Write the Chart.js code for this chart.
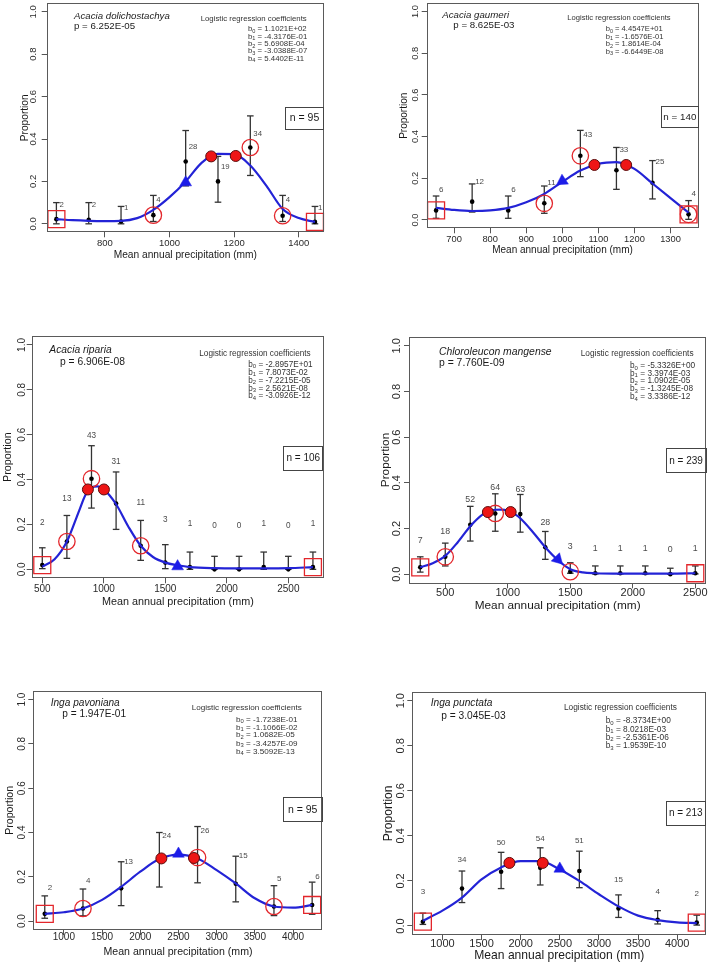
<!DOCTYPE html>
<html>
<head>
<meta charset="utf-8">
<script src="https://cdn.jsdelivr.net/npm/chart.js@4.4.1/dist/chart.umd.min.js"></script>
<style>
  body { margin: 0; background: #fff; width: 709px; height: 967px; position: relative; overflow: hidden; }
  canvas { position: absolute; left: 0; top: 0; }
</style>
</head>
<body>
<canvas id="c1" width="709" height="967"></canvas>
<canvas id="c2" width="709" height="967"></canvas>
<canvas id="c3" width="709" height="967"></canvas>
<canvas id="c4" width="709" height="967"></canvas>
<canvas id="c5" width="709" height="967"></canvas>
<canvas id="c6" width="709" height="967"></canvas>
<script>
const yTicks = [0, 0.2, 0.4, 0.6, 0.8, 1.0];

// ---- Acacia dolichostachya ----
const p1X = [650, 750, 850, 950, 1050, 1150, 1250, 1350, 1450];
const p1Y = [0.022, 0.019, 0.011, 0.041, 0.294, 0.200, 0.360, 0.038, 0.009];
const p1Lo = [0, 0, 0, 0.011, 0.179, 0.102, 0.228, 0.011, 0];
const p1Hi = [0.100, 0.100, 0.082, 0.134, 0.440, 0.318, 0.509, 0.134, 0.082];
const p1N = [2, 2, 1, 4, 28, 19, 34, 4, 1];
const p1NY = [0.09, 0.09, 0.077, 0.113, 0.363, 0.267, 0.425, 0.113, 0.077];
const p1FitX = [650, 700, 750, 800, 850, 900, 950, 1000, 1050, 1100, 1150, 1200, 1250, 1300, 1350, 1400, 1450];
const p1FitY = [0.022, 0.017, 0.014, 0.013, 0.014, 0.027, 0.066, 0.126, 0.200, 0.289, 0.330, 0.329, 0.275, 0.179, 0.070, 0.027, 0.009];
const p1Circle = [3, 6, 7];
const p1Square = [0, 8];
const p1PeakX = [1129, 1205];
const p1PeakY = [0.318, 0.320];
const p1Tri = [1050, 0.195];
const p1XTicks = [800, 1000, 1200, 1400];
const p1Coef = ['1.1021E+02', '-4.3176E-01', '5.6908E-04', '-3.0388E-07', '5.4402E-11'];

// ---- Acacia gaumeri ----
const p2X = [650, 750, 850, 950, 1050, 1150, 1250, 1350];
const p2Y = [0.046, 0.088, 0.046, 0.080, 0.308, 0.239, 0.179, 0.027];
const p2Lo = [0.008, 0.038, 0.008, 0.032, 0.208, 0.147, 0.101, 0.003];
const p2Hi = [0.115, 0.173, 0.115, 0.163, 0.430, 0.348, 0.285, 0.093];
const p2N = [6, 12, 6, 11, 43, 33, 25, 4];
const p2NY = [0.144, 0.184, 0.144, 0.179, 0.409, 0.337, 0.277, 0.128];
const p2FitX = [650, 700, 750, 800, 850, 900, 950, 1000, 1050, 1100, 1150, 1200, 1250, 1300, 1350];
const p2FitY = [0.058, 0.048, 0.043, 0.046, 0.058, 0.085, 0.125, 0.183, 0.237, 0.270, 0.278, 0.245, 0.175, 0.105, 0.035];
const p2Circle = [3, 4, 7];
const p2Square = [0, 7];
const p2PeakX = [1089, 1177];
const p2PeakY = [0.264, 0.264];
const p2Tri = [1000, 0.187];
const p2XTicks = [700, 800, 900, 1000, 1100, 1200, 1300];
const p2Coef = ['4.4547E+01', '-1.6576E-01', '1.8614E-04', '-6.6449E-08'];

// ---- Acacia riparia ----
const p3X = [500, 700, 900, 1100, 1300, 1500, 1700, 1900, 2100, 2300, 2500, 2700];
const p3Y = [0.019, 0.124, 0.404, 0.293, 0.105, 0.030, 0.010, 0.000, 0.000, 0.010, 0.000, 0.010];
const p3Lo = [0.003, 0.049, 0.273, 0.178, 0.040, 0.003, 0, 0, 0, 0, 0, 0];
const p3Hi = [0.096, 0.240, 0.551, 0.434, 0.218, 0.110, 0.077, 0.058, 0.058, 0.077, 0.058, 0.077];
const p3N = [2, 13, 43, 31, 11, 3, 1, 0, 0, 1, 0, 1];
const p3NY = [0.207, 0.314, 0.597, 0.481, 0.296, 0.222, 0.203, 0.193, 0.193, 0.203, 0.193, 0.203];
const p3FitX = [500, 600, 700, 800, 850, 900, 950, 1000, 1100, 1200, 1300, 1400, 1500, 1600, 1700, 1900, 2100, 2300, 2500, 2700];
const p3FitY = [0.012, 0.045, 0.124, 0.262, 0.330, 0.365, 0.370, 0.356, 0.290, 0.190, 0.105, 0.055, 0.030, 0.018, 0.010, 0.005, 0.004, 0.004, 0.005, 0.010];
const p3Circle = [1, 2, 4];
const p3Square = [0, 11];
const p3PeakX = [871, 1001];
const p3PeakY = [0.356, 0.356];
const p3Tri = [1600, 0.013];
const p3XTicks = [500, 1000, 1500, 2000, 2500];
const p3Coef = ['-2.8957E+01', '7.8073E-02', '-7.2215E-05', '2.5621E-08', '-3.0926E-12'];

// ---- Chloroleucon mangense ----
const p4X = [300, 500, 700, 900, 1100, 1300, 1500, 1700, 1900, 2100, 2300, 2500];
const p4Y = [0.030, 0.076, 0.216, 0.266, 0.263, 0.118, 0.011, 0.004, 0.004, 0.004, 0.000, 0.004];
const p4Lo = [0.009, 0.036, 0.145, 0.188, 0.184, 0.065, 0.004, 0.001, 0.001, 0.001, 0, 0.001];
const p4Hi = [0.076, 0.136, 0.297, 0.352, 0.349, 0.187, 0.050, 0.036, 0.036, 0.036, 0.026, 0.036];
const p4N = [7, 18, 52, 64, 63, 28, 3, 1, 1, 1, 0, 1];
const p4NY = [0.145, 0.187, 0.325, 0.378, 0.371, 0.227, 0.122, 0.112, 0.112, 0.112, 0.109, 0.114];
const p4FitX = [300, 400, 500, 600, 700, 800, 850, 900, 950, 1000, 1050, 1100, 1200, 1300, 1400, 1500, 1600, 1700, 1900, 2100, 2300, 2500];
const p4FitY = [0.030, 0.048, 0.080, 0.140, 0.210, 0.262, 0.275, 0.282, 0.283, 0.278, 0.265, 0.245, 0.185, 0.118, 0.062, 0.022, 0.008, 0.004, 0.002, 0.002, 0.002, 0.004];
const p4Circle = [1, 3, 6];
const p4Square = [0, 11];
const p4PeakX = [841, 1023];
const p4PeakY = [0.272, 0.272];
const p4Tri = [1400, 0.065];
const p4XTicks = [500, 1000, 1500, 2000, 2500];
const p4Coef = ['-5.3326E+00', '3.3974E-03', '1.0902E-05', '-1.3245E-08', '3.3386E-12'];

// ---- Inga pavoniana ----
const p5X = [750, 1250, 1750, 2250, 2750, 3250, 3750, 4250];
const p5Y = [0.033, 0.057, 0.148, 0.275, 0.287, 0.169, 0.066, 0.073];
const p5Lo = [0.013, 0.024, 0.070, 0.154, 0.173, 0.087, 0.025, 0.031];
const p5Hi = [0.114, 0.145, 0.268, 0.400, 0.427, 0.293, 0.160, 0.176];
const p5N = [2, 4, 13, 24, 26, 15, 5, 6];
const p5NY = [0.152, 0.181, 0.270, 0.387, 0.407, 0.293, 0.190, 0.200];
const p5FitX = [750, 1000, 1250, 1500, 1750, 2000, 2250, 2500, 2750, 3000, 3250, 3500, 3750, 4000, 4250];
const p5FitY = [0.033, 0.040, 0.057, 0.096, 0.155, 0.223, 0.280, 0.300, 0.283, 0.230, 0.170, 0.103, 0.066, 0.061, 0.073];
const p5Circle = [1, 4, 6];
const p5Square = [0, 7];
const p5PeakX = [2276, 2703];
const p5PeakY = [0.283, 0.285];
const p5Tri = [2500, 0.304];
const p5XTicks = [1000, 1500, 2000, 2500, 3000, 3500, 4000];
const p5Coef = ['-1.7238E-01', '-1.1066E-02', '1.0682E-05', '-3.4257E-09', '3.5092E-13'];

// ---- Inga punctata ----
const p6X = [750, 1250, 1750, 2250, 2750, 3250, 3750, 4250];
const p6Y = [0.019, 0.166, 0.241, 0.258, 0.244, 0.078, 0.028, 0.015];
const p6Lo = [0.007, 0.104, 0.166, 0.182, 0.170, 0.038, 0.009, 0.004];
const p6Hi = [0.057, 0.244, 0.327, 0.347, 0.332, 0.138, 0.068, 0.048];
const p6N = [3, 34, 50, 54, 51, 15, 4, 2];
const p6NY = [0.151, 0.295, 0.369, 0.386, 0.376, 0.204, 0.153, 0.145];
const p6FitX = [750, 1000, 1250, 1500, 1750, 2000, 2250, 2500, 2750, 3000, 3250, 3500, 3750, 4000, 4250];
const p6FitY = [0.023, 0.068, 0.126, 0.207, 0.260, 0.288, 0.288, 0.251, 0.200, 0.141, 0.087, 0.046, 0.026, 0.016, 0.013];
const p6Circle = [];
const p6Square = [0, 7];
const p6PeakX = [1856, 2282];
const p6PeakY = [0.280, 0.280];
const p6Tri = [2500, 0.254];
const p6XTicks = [1000, 1500, 2000, 2500, 3000, 3500, 4000];
const p6Coef = ['-8.3734E+00', '8.0218E-03', '-2.5361E-06', '1.9539E-10'];

const FONT = '"Liberation Sans", Arial, Helvetica, sans-serif';
const BLUE = '#2323d6';
const RED = '#e3262b';

const panels = [
  { id: 'c1', species: 'Acacia dolichostachya', pval: 'p = 6.252E-05', nTot: 95,
    x: p1X, y: p1Y, lo: p1Lo, hi: p1Hi, n: p1N, ny: p1NY, fx: p1FitX, fy: p1FitY,
    circ: p1Circle, sq: p1Square, px: p1PeakX, py: p1PeakY, tri: p1Tri, xt: p1XTicks, coef: p1Coef,
    box: [46.7, 3.3, 324, 232.3], xr: [620, 1478], triRot: 0,
    fs: 10.2, tfs: 9.5, sfs: 9.7, cfs: 7.8, nfs: 10.5, kfs: 7.8, side: true,
    yLabX: 33.3, xLabY: 243, yTitX: 25, xTitY: 255,
    sp: [74, 16.7], pv: [74, 26], ct: [200.7, 19], bx: 248, by: [29.3, 36.7, 44, 51.2, 58.5],
    nb: [285, 107, 324, 129] },
  { id: 'c2', species: 'Acacia gaumeri', pval: 'p = 8.625E-03', nTot: 140,
    x: p2X, y: p2Y, lo: p2Lo, hi: p2Hi, n: p2N, ny: p2NY, fx: p2FitX, fy: p2FitY,
    circ: p2Circle, sq: p2Square, px: p2PeakX, py: p2PeakY, tri: p2Tri, xt: p2XTicks, coef: p2Coef,
    box: [426.7, 3.3, 698.3, 228.3], xr: [624, 1377], triRot: 237,
    fs: 10.0, tfs: 9.3, sfs: 9.7, cfs: 7.6, nfs: 9.8, kfs: 8, side: true,
    yLabX: 415.7, xLabY: 239.3, yTitX: 404, xTitY: 250,
    sp: [442.3, 15], pv: [453.3, 25], ct: [567.3, 18.3], bx: 605.7, by: [29.3, 36.7, 44, 51.5],
    nb: [660.7, 106, 699, 126.7] },
  { id: 'c3', species: 'Acacia riparia', pval: 'p = 6.906E-08', nTot: 106,
    x: p3X, y: p3Y, lo: p3Lo, hi: p3Hi, n: p3N, ny: p3NY, fx: p3FitX, fy: p3FitY,
    circ: p3Circle, sq: p3Square, px: p3PeakX, py: p3PeakY, tri: p3Tri, xt: p3XTicks, coef: p3Coef,
    box: [31.7, 336, 324, 578.3], xr: [414, 2790], triRot: 0,
    fs: 10.8, tfs: 10, sfs: 10.3, cfs: 8.2, nfs: 10, kfs: 8.2, side: false,
    yLabX: 22.3, xLabY: 589, yTitX: 8.3, xTitY: 601.7,
    sp: [49.3, 350], pv: [60, 361.7], ct: [199.3, 353.3], bx: 248.3, by: [364.3, 372.3, 380.3, 388.3, 396],
    nb: [283.3, 446, 323.3, 470] },
  { id: 'c4', species: 'Chloroleucon mangense', pval: 'p = 7.760E-09', nTot: 239,
    x: p4X, y: p4Y, lo: p4Lo, hi: p4Hi, n: p4N, ny: p4NY, fx: p4FitX, fy: p4FitY,
    circ: p4Circle, sq: p4Square, px: p4PeakX, py: p4PeakY, tri: p4Tri, xt: p4XTicks, coef: p4Coef,
    box: [409, 336.7, 706.3, 583.3], xr: [210, 2588], triRot: 135,
    fs: 11.8, tfs: 11, sfs: 10.4, cfs: 8.3, nfs: 10, kfs: 8.8, side: false,
    yLabX: 397.3, xLabY: 593.3, yTitX: 385.7, xTitY: 605.7,
    sp: [439, 352.3], pv: [439, 362.7], ct: [580.7, 354], bx: 630, by: [365.7, 373.3, 381, 389, 396.7],
    nb: [665.7, 448.3, 706.3, 472.3] },
  { id: 'c5', species: 'Inga pavoniana', pval: 'p = 1.947E-01', nTot: 95,
    x: p5X, y: p5Y, lo: p5Lo, hi: p5Hi, n: p5N, ny: p5NY, fx: p5FitX, fy: p5FitY,
    circ: p5Circle, sq: p5Square, px: p5PeakX, py: p5PeakY, tri: p5Tri, xt: p5XTicks, coef: p5Coef,
    box: [33.3, 690.7, 322.7, 930], xr: [600, 4388], triRot: 0,
    fs: 10.6, tfs: 10, sfs: 10.1, cfs: 8.1, nfs: 10.5, kfs: 8, side: true,
    yLabX: 22.7, xLabY: 937.3, yTitX: 10, xTitY: 951.7,
    sp: [50.7, 703.3], pv: [62.3, 714.3], ct: [191.7, 707.3], bx: 236, by: [719.3, 727.3, 735.2, 743.3, 751.5],
    nb: [282.7, 797.3, 322.7, 821.7] },
  { id: 'c6', species: 'Inga punctata', pval: 'p = 3.045E-03', nTot: 213,
    x: p6X, y: p6Y, lo: p6Lo, hi: p6Hi, n: p6N, ny: p6NY, fx: p6FitX, fy: p6FitY,
    circ: p6Circle, sq: p6Square, px: p6PeakX, py: p6PeakY, tri: p6Tri, xt: p6XTicks, coef: p6Coef,
    box: [412.3, 691.7, 706.3, 935], xr: [615, 4372], triRot: 0,
    fs: 12.1, tfs: 11, sfs: 10.2, cfs: 8.3, nfs: 10, kfs: 8, side: false,
    yLabX: 400.7, xLabY: 944, yTitX: 389, xTitY: 956,
    sp: [430.7, 703.3], pv: [441.3, 715.7], ct: [564, 707.7], bx: 605.7, by: [721, 729.3, 737.5, 746],
    nb: [665.7, 800.7, 705.7, 825] }
];

function buildPanel(p) {
  const [L, T, R, B] = p.box;
  const tl = 5, LH = 1.2, xH = 30;
  const yW = Math.min(60, L);
  const m = document.createElement('canvas').getContext('2d');
  m.font = p.tfs + 'px ' + FONT;
  const w00 = m.measureText('0.0').width;
  const yPad = L - tl - w00 / 2 - p.yLabX;
  const xPad = p.xLabY - B - tl - p.tfs * LH / 2;
  const yTitPad = p.yTitX - (L - yW) - p.fs * LH / 2;
  const xTitPad = B + xH - p.fs * LH / 2 - p.xTitY;

  const pts = p.x.map((x, i) => ({ x, y: p.y[i] }));
  const bars = [];
  p.x.forEach((x, i) => { bars.push({ x, y: p.lo[i] }, { x, y: p.hi[i] }, { x, y: null }); });
  const caps = p.x.flatMap((x, i) => [{ x, y: p.lo[i] }, { x, y: p.hi[i] }]);
  const fit = p.fx.map((x, i) => ({ x, y: p.fy[i] }));

  const deco = {
    id: 'deco',
    afterDatasetsDraw(chart) {
      const { ctx, scales: { x, y } } = chart;
      ctx.save();
      ctx.font = p.kfs + 'px ' + FONT;
      ctx.fillStyle = '#4a4a4a';
      ctx.textBaseline = 'middle';
      ctx.textAlign = p.side ? 'left' : 'center';
      p.n.forEach((n, i) => {
        ctx.fillText(String(n), x.getPixelForValue(p.x[i]) + (p.side ? 3 : 0), y.getPixelForValue(p.ny[i]));
      });
      ctx.restore();
    },
    afterDraw(chart) {
      const { ctx, chartArea: a } = chart;
      ctx.save();
      ctx.strokeStyle = '#5a5a5a';
      ctx.lineWidth = 1;
      ctx.strokeRect(Math.round(a.left) + 0.5, Math.round(a.top) + 0.5,
        Math.round(a.right - a.left) - 1, Math.round(a.bottom - a.top) - 1);

      ctx.textBaseline = 'middle';
      ctx.textAlign = 'left';
      ctx.fillStyle = '#1a1a1a';
      ctx.font = 'italic ' + p.sfs + 'px ' + FONT;
      ctx.fillText(p.species, p.sp[0], p.sp[1]);
      ctx.font = p.sfs + 'px ' + FONT;
      ctx.fillText(p.pval, p.pv[0], p.pv[1]);

      ctx.fillStyle = '#333';
      ctx.font = p.cfs + 'px ' + FONT;
      ctx.fillText('Logistic regression coefficients', p.ct[0], p.ct[1]);
      p.coef.forEach((c, i) => {
        let xx = p.bx;
        const yy = p.by[i];
        ctx.font = p.cfs + 'px ' + FONT;
        ctx.fillText('b', xx, yy);
        xx += ctx.measureText('b').width;
        ctx.font = (p.cfs * 0.72).toFixed(2) + 'px ' + FONT;
        ctx.fillText(String(i), xx, yy + p.cfs * 0.28);
        xx += ctx.measureText(String(i)).width;
        ctx.font = p.cfs + 'px ' + FONT;
        ctx.fillText(' = ' + c, xx, yy);
      });

      const [nl, nt, nr, nb] = p.nb;
      ctx.strokeStyle = '#444';
      ctx.strokeRect(Math.round(nl) + 0.5, Math.round(nt) + 0.5, Math.round(nr - nl) - 1, Math.round(nb - nt));
      ctx.fillStyle = '#1a1a1a';
      ctx.font = p.nfs + 'px ' + FONT;
      ctx.textAlign = 'center';
      ctx.fillText('n = ' + p.nTot, (nl + nr) / 2, (nt + nb) / 2 + 0.5);
      ctx.restore();
    }
  };

  new Chart(document.getElementById(p.id), {
    type: 'scatter',
    data: {
      datasets: [
        { type: 'line', data: bars, borderColor: '#333', borderWidth: 1.3, pointRadius: 0,
          tension: 0, spanGaps: false, order: 6 },
        { data: caps, pointStyle: 'line', pointRadius: 3.3, pointBorderColor: '#333',
          pointBorderWidth: 1.3, order: 5, clip: false },
        { data: pts, pointRadius: 2.3, pointBackgroundColor: '#000', pointBorderWidth: 0, order: 4 },
        { type: 'line', data: fit, borderColor: BLUE, borderWidth: 2.2, pointRadius: 0,
          cubicInterpolationMode: 'monotone', order: 3 },
        { data: p.circ.map(i => pts[i]), pointRadius: 8.2, pointBorderColor: RED, pointBorderWidth: 1.3,
          pointBackgroundColor: 'rgba(0,0,0,0)', order: 2, clip: false },
        { data: p.sq.map(i => pts[i]), pointStyle: 'rect', pointRadius: 12, pointBorderColor: RED,
          pointBorderWidth: 1.3, pointBackgroundColor: 'rgba(0,0,0,0)', order: 2, clip: false },
        { data: p.px.map((x, i) => ({ x, y: p.py[i] })), pointRadius: 5.5, pointBackgroundColor: '#ee1616',
          pointBorderColor: '#5c0b0b', pointBorderWidth: 1, order: 1, clip: false },
        { data: [{ x: p.tri[0], y: p.tri[1] }], pointStyle: 'triangle', pointRadius: 6.8,
          pointRotation: p.triRot, pointBackgroundColor: '#1c1ce8', pointBorderColor: '#1c1ce8',
          pointBorderWidth: 0.5, order: 0, clip: false }
      ]
    },
    options: {
      responsive: false,
      animation: false,
      events: [],
      layout: { autoPadding: false, padding: { left: L - yW, top: T, right: 709 - R, bottom: 967 - B - xH } },
      plugins: { legend: { display: false }, tooltip: { enabled: false } },
      scales: {
        x: {
          type: 'linear', min: p.xr[0], max: p.xr[1], offset: false,
          afterBuildTicks: s => { s.ticks = p.xt.map(v => ({ value: v })); },
          afterFit: s => { s.height = xH; s.paddingLeft = 0; s.paddingRight = 0; },
          ticks: { autoSkip: false, maxRotation: 0, padding: xPad, color: '#2a2a2a',
            font: { family: FONT, size: p.tfs }, callback: v => String(v) },
          grid: { drawOnChartArea: false, drawTicks: true, tickLength: tl, color: '#555', offset: false },
          border: { display: false },
          title: { display: true, text: 'Mean annual precipitation (mm)', color: '#1a1a1a',
            font: { family: FONT, size: p.fs }, padding: { top: 0, bottom: xTitPad } }
        },
        y: {
          type: 'linear', min: -0.04, max: 1.04,
          afterBuildTicks: s => { s.ticks = yTicks.map(v => ({ value: v })); },
          afterFit: s => { s.width = yW; s.paddingTop = 0; s.paddingBottom = 0; },
          ticks: { autoSkip: false, minRotation: 90, maxRotation: 90, crossAlign: 'center',
            padding: yPad, color: '#2a2a2a', font: { family: FONT, size: p.tfs },
            callback: v => Number(v).toFixed(1) },
          grid: { drawOnChartArea: false, drawTicks: true, tickLength: tl, color: '#555' },
          border: { display: false },
          title: { display: true, text: 'Proportion', color: '#1a1a1a',
            font: { family: FONT, size: p.fs }, padding: { top: yTitPad, bottom: 0 } }
        }
      }
    },
    plugins: [deco]
  });
}

panels.forEach(buildPanel);
</script>
</body>
</html>
